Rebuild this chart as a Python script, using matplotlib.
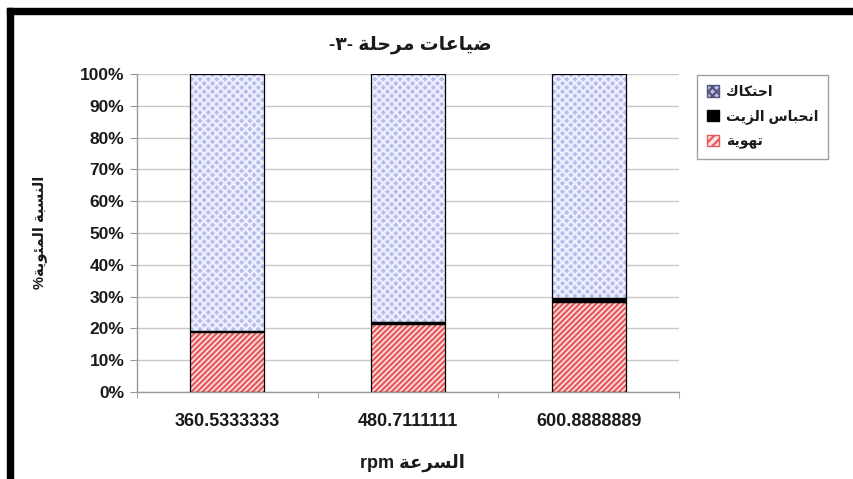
import matplotlib
matplotlib.use("Agg")
import matplotlib.pyplot as plt
from matplotlib.patches import Rectangle, Patch
import numpy as np

# ---- data -------------------------------------------------------------
speeds = ["360.5333333", "480.7111111", "600.8888889"]
ventilation = [18.9, 21.5, 28.3]   # تهوية
oil_trap = [0.3, 0.5, 1.2]         # انحباس الزيت
friction = [80.8, 78.0, 70.5]      # احتكاك
y_ticks = [0, 10, 20, 30, 40, 50, 60, 70, 80, 90, 100]

# ---- minimal Arabic shaping (presentation forms, visual order) --------
FORMS = {
    "ا": ("\uFE8D", "\uFE8E", None, None),
    "ب": ("\uFE8F", "\uFE90", "\uFE91", "\uFE92"),
    "ة": ("\uFE93", "\uFE94", None, None),
    "ت": ("\uFE95", "\uFE96", "\uFE97", "\uFE98"),
    "ح": ("\uFEA1", "\uFEA2", "\uFEA3", "\uFEA4"),
    "ر": ("\uFEAD", "\uFEAE", None, None),
    "ز": ("\uFEAF", "\uFEB0", None, None),
    "س": ("\uFEB1", "\uFEB2", "\uFEB3", "\uFEB4"),
    "ض": ("\uFEBD", "\uFEBE", "\uFEBF", "\uFEC0"),
    "ع": ("\uFEC9", "\uFECA", "\uFECB", "\uFECC"),
    "ك": ("\uFED9", "\uFEDA", "\uFEDB", "\uFEDC"),
    "ل": ("\uFEDD", "\uFEDE", "\uFEDF", "\uFEE0"),
    "م": ("\uFEE1", "\uFEE2", "\uFEE3", "\uFEE4"),
    "ن": ("\uFEE5", "\uFEE6", "\uFEE7", "\uFEE8"),
    "ه": ("\uFEE9", "\uFEEA", "\uFEEB", "\uFEEC"),
    "و": ("\uFEED", "\uFEEE", None, None),
    "ي": ("\uFEF1", "\uFEF2", "\uFEF3", "\uFEF4"),
    "ئ": ("\uFE89", "\uFE8A", "\uFE8B", "\uFE8C"),
}


def joins_left(ch):
    return ch in FORMS and FORMS[ch][2] is not None


def shape_word(word):
    out = []
    for i, ch in enumerate(word):
        if ch not in FORMS:
            out.append(ch)
            continue
        prev_j = i > 0 and joins_left(word[i - 1])
        next_j = i < len(word) - 1 and word[i + 1] in FORMS and joins_left(ch)
        iso, fin, ini, med = FORMS[ch]
        if prev_j and next_j:
            out.append(med)
        elif prev_j:
            out.append(fin)
        elif next_j:
            out.append(ini)
        else:
            out.append(iso)
    return "".join(reversed(out))


def rtl(text):
    # right-to-left line: words laid out from right to left
    return " ".join(shape_word(w) for w in reversed(text.split(" ")))


title_txt = "-٣- " + rtl("ضياعات مرحلة")
xlabel_txt = "rpm " + rtl("السرعة")
ylabel_txt = "%" + rtl("النسبة المئوية")
leg_labels = [rtl("احتكاك"), rtl("انحباس الزيت"), rtl("تهوية")]

FONT = ["Liberation Sans", "DejaVu Sans"]
plt.rcParams["font.family"] = FONT
plt.rcParams["hatch.linewidth"] = 1.6

TXT = "#1a1a1a"

fig = plt.figure(figsize=(8.54, 4.79), dpi=100)
fig.patch.set_facecolor("white")
ax = fig.add_axes([137 / 854, 1 - 392 / 479, (679 - 137) / 854, (392 - 74) / 479])

x = np.arange(len(speeds))
w = 0.41
tot = np.array(ventilation) + np.array(oil_trap) + np.array(friction)
v = np.array(ventilation) / tot * 100
o = np.array(oil_trap) / tot * 100
f = np.array(friction) / tot * 100

red_face, red_hatch = "#fbe3e3", "#e8585a"
blue_face, blue_hatch = "#b7bce9", "#eef0ff"

# hatched fills
ax.bar(x, v, w, color=red_face, edgecolor=red_hatch, hatch="//////", linewidth=0, zorder=2)
ax.bar(x, o, w, bottom=v, color="black", linewidth=0, zorder=2)
ax.bar(x, f, w, bottom=v + o, color=blue_face, edgecolor=blue_hatch, hatch="xxxx", linewidth=0, zorder=2)
# outlines
for vals, bot in ((v, 0), (o, v), (f, v + o)):
    ax.bar(x, vals, w, bottom=bot, facecolor="none", edgecolor="black", linewidth=0.9, zorder=3)

ax.set_xlim(-0.5, len(speeds) - 0.5)
ax.set_ylim(0, 100)
ax.set_yticks(y_ticks)
ax.set_yticklabels([f"{t}%" for t in y_ticks], fontsize=12.5, fontweight="bold", color=TXT)
ax.yaxis.grid(True, color="#c8c8c8", linewidth=1.0, zorder=0)
ax.set_axisbelow(True)

ax.set_xticks(x)
ax.set_xticklabels(speeds, fontsize=13, fontweight="bold", color=TXT)
ax.set_xticks(np.arange(len(speeds) + 1) - 0.5, minor=True)
ax.tick_params(axis="x", which="major", length=0, pad=15)
ax.tick_params(axis="x", which="minor", length=4, color="#999999")
ax.tick_params(axis="y", length=5, color="#999999", pad=4)

for s in ("top", "right"):
    ax.spines[s].set_visible(False)
for s in ("left", "bottom"):
    ax.spines[s].set_color("#999999")
    ax.spines[s].set_linewidth(1.0)

fig.text(410 / 854, 1 - 45 / 479, title_txt, ha="center", va="center",
         fontsize=13.5, fontweight="bold", color=TXT, family=FONT)
fig.text(412 / 854, 1 - 463 / 479, xlabel_txt, ha="center", va="center",
         fontsize=13, fontweight="bold", color=TXT, family=FONT)
fig.text(40 / 854, 1 - 232 / 479, ylabel_txt, ha="center", va="center",
         rotation=90, fontsize=10.5, fontweight="bold", color=TXT, family=FONT)

handles = [
    Patch(facecolor=blue_face, edgecolor="#555577", hatch="xxxx"),
    Patch(facecolor="black", edgecolor="black"),
    Patch(facecolor=red_face, edgecolor=red_hatch, hatch="////"),
]
leg = fig.legend(handles, leg_labels, loc="upper left",
                 bbox_to_anchor=(697 / 854, 1 - 75 / 479), borderaxespad=0,
                 frameon=True, fancybox=False, edgecolor="#888888",
                 prop={"size": 10, "weight": "bold", "family": FONT},
                 handlelength=0.9, handleheight=0.9, handletextpad=0.5,
                 labelspacing=0.75, borderpad=0.7)
leg.get_frame().set_linewidth(1.0)
for t in leg.get_texts():
    t.set_color(TXT)

# heavy black frame along the top and left edges
fig.patches.append(Rectangle((7 / 854, 0), 6 / 854, 1 - 8 / 479,
                             transform=fig.transFigure, color="black", zorder=10))
fig.patches.append(Rectangle((7 / 854, 1 - 14 / 479), 1 - 7 / 854, 6 / 479,
                             transform=fig.transFigure, color="black", zorder=10))

fig.savefig("out.png", dpi=100)
